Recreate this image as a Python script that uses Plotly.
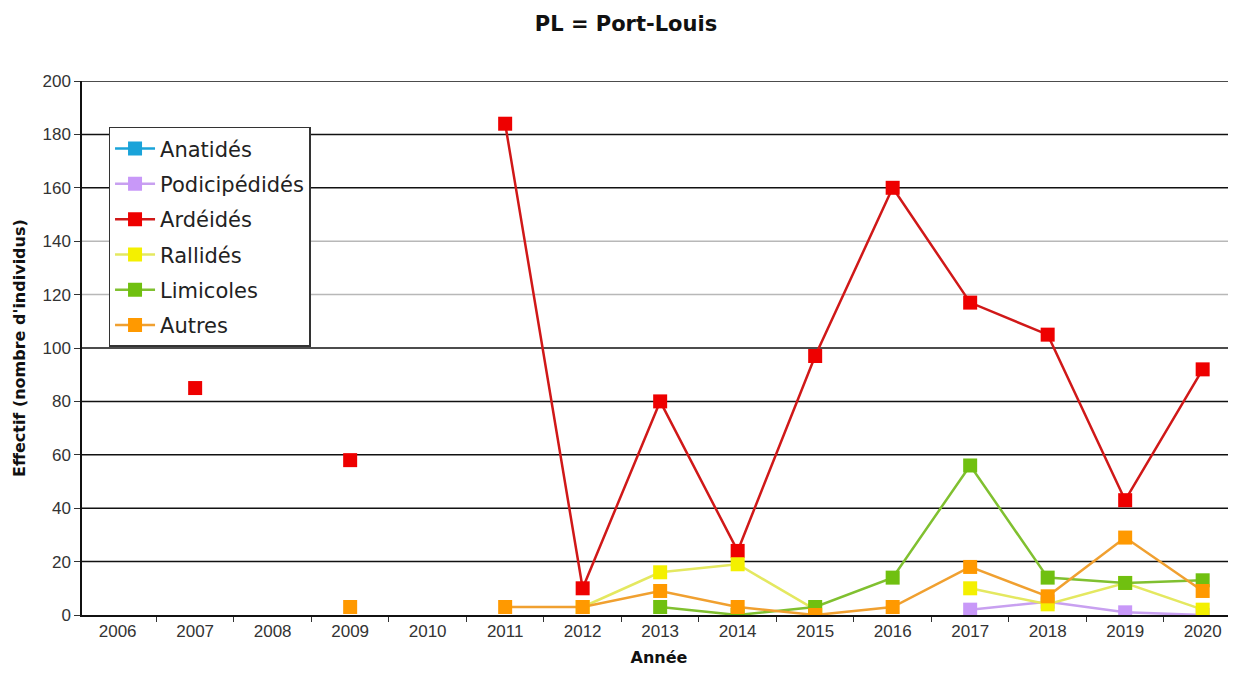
import plotly.graph_objects as go

years = [str(y) for y in range(2006, 2021)]

anatides = [None] * 15
podicipedides = [None, None, None, None, None, None, None, None, None, None, None, 2, 5, 1, 0]
ardeides = [None, 85, None, 58, None, 184, 10, 80, 24, 97, 160, 117, 105, 43, 92]
rallides = [None, None, None, None, None, None, 3, 16, 19, 2, None, 10, 4, 12, 2]
limicoles = [None, None, None, None, None, None, None, 3, 0, 3, 14, 56, 14, 12, 13]
autres = [None, None, None, 3, None, 3, 3, 9, 3, 0, 3, 18, 7, 29, 9]

series = [
    ("Anatidés", anatides, "#1aa3d9", "#1aa3d9"),
    ("Podicipédidés", podicipedides, "#c8a0f0", "#c898f8"),
    ("Ardéidés", ardeides, "#d01818", "#ee0000"),
    ("Rallidés", rallides, "#e4e860", "#f4f000"),
    ("Limicoles", limicoles, "#80c030", "#70c010"),
    ("Autres", autres, "#f0a030", "#ff9900"),
]

y_ticks = [0, 20, 40, 60, 80, 100, 120, 140, 160, 180, 200]

fig = go.Figure()
for name, vals, lc, mc in series:
    fig.add_trace(go.Scatter(
        x=years, y=vals, name=name, mode="lines+markers", legendgroup=name,
        line=dict(color=lc, width=2.5),
        marker=dict(symbol="square", size=14, color=mc),
        connectgaps=False,
    ))

shapes = []
for t in y_ticks[1:]:
    col = "#b8b8b8" if t in (120, 140) else "#111111"
    shapes.append(dict(type="line", xref="paper", x0=0, x1=1, yref="y", y0=t, y1=t,
                       line=dict(color=col, width=1.5), layer="below"))

fig.update_layout(
    width=1236, height=677,
    margin=dict(l=74, r=8, t=73, b=70),
    paper_bgcolor="white", plot_bgcolor="white",
    font=dict(family="Liberation Sans, Arial, sans-serif", color="#222"),
    title=dict(text="<b>PL = Port-Louis</b>", x=0.5, xanchor="center", y=0.977, yanchor="middle",
               font=dict(family="DejaVu Sans, sans-serif", size=21, color="#111")),
    showlegend=True,
    legend=dict(x=0.023, y=0.914, xanchor="left", yanchor="top",
                bgcolor="white", bordercolor="#333", borderwidth=1.5,
                font=dict(family="DejaVu Sans, sans-serif", size=21, color="#222"),
                tracegroupgap=5, itemwidth=40),
    shapes=shapes,
    annotations=[dict(
        text="<b>Effectif (nombre d'individus)</b>", textangle=-90,
        xref="paper", yref="paper", x=-0.0546, y=0.5, xanchor="center", yanchor="middle",
        showarrow=False, font=dict(family="DejaVu Sans, sans-serif", size=16, color="#111"),
    )],
    xaxis=dict(
        type="category", range=[-0.46, 14.43],
        showgrid=False, showline=True, linecolor="#111", linewidth=1.5,
        ticks="outside", tickson="boundaries", ticklen=5, tickcolor="#333",
        tickfont=dict(size=17, color="#333"),
        title=dict(text="<b>Année</b>", font=dict(family="DejaVu Sans, sans-serif", size=16, color="#111"), standoff=12),
    ),
    yaxis=dict(
        range=[0, 200], tickvals=y_ticks, showgrid=False,
        showline=True, linecolor="#111", linewidth=1.5,
        ticks="outside", ticklen=6, tickcolor="#333",
        tickfont=dict(size=17, color="#333"), zeroline=False,
    ),
)

fig.write_html("out.html")
